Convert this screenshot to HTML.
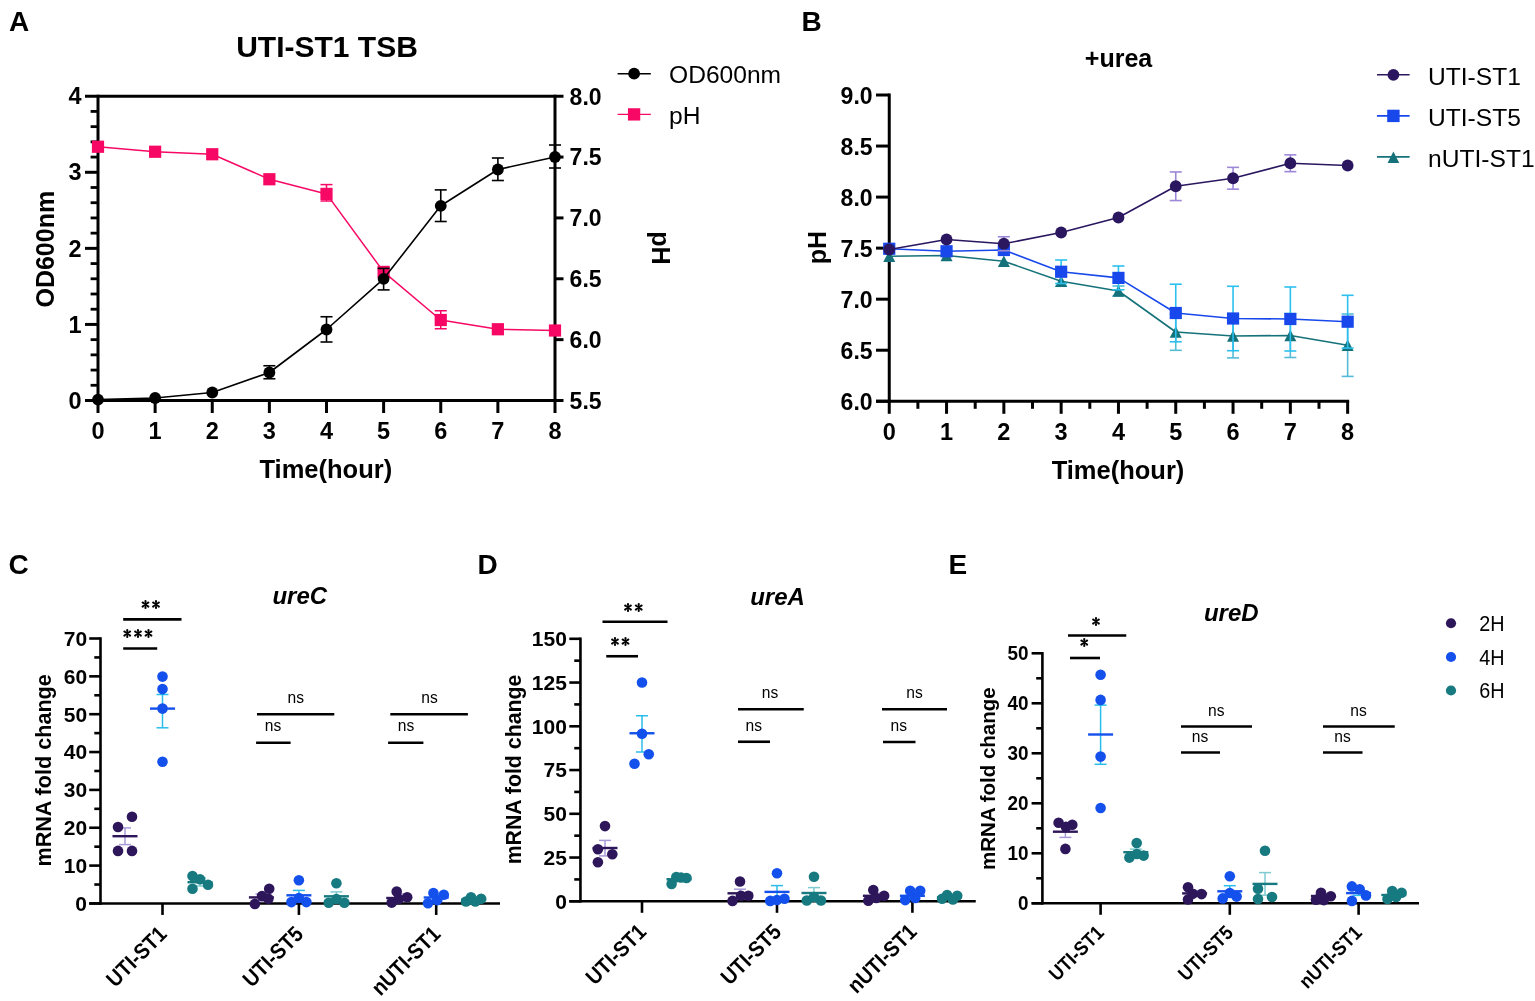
<!DOCTYPE html>
<html><head><meta charset="utf-8"><title>Figure</title>
<style>html,body{margin:0;padding:0;background:#fff;}svg{display:block;}</style></head>
<body><svg width="1535" height="1001" viewBox="0 0 1535 1001" font-family='"Liberation Sans", Arial, sans-serif'>
<rect width="1535" height="1001" fill="#fff"/>
<text x="9.00" y="31.00" font-size="28" font-weight="bold" text-anchor="start" fill="#000">A</text>
<text x="327.00" y="57.00" font-size="30" font-weight="bold" text-anchor="middle" fill="#000">UTI-ST1 TSB</text>
<line x1="85.00" y1="96.20" x2="563.50" y2="96.20" stroke="#000" stroke-width="3" stroke-linecap="butt"/>
<line x1="85.00" y1="400.50" x2="563.50" y2="400.50" stroke="#000" stroke-width="3" stroke-linecap="butt"/>
<line x1="98.00" y1="94.70" x2="98.00" y2="402.00" stroke="#000" stroke-width="3" stroke-linecap="butt"/>
<line x1="555.00" y1="94.70" x2="555.00" y2="402.00" stroke="#000" stroke-width="3" stroke-linecap="butt"/>
<line x1="85.00" y1="324.43" x2="98.00" y2="324.43" stroke="#000" stroke-width="3" stroke-linecap="butt"/>
<line x1="85.00" y1="248.36" x2="98.00" y2="248.36" stroke="#000" stroke-width="3" stroke-linecap="butt"/>
<line x1="85.00" y1="172.29" x2="98.00" y2="172.29" stroke="#000" stroke-width="3" stroke-linecap="butt"/>
<line x1="90.60" y1="385.29" x2="98.00" y2="385.29" stroke="#000" stroke-width="2.8" stroke-linecap="butt"/>
<line x1="90.60" y1="370.07" x2="98.00" y2="370.07" stroke="#000" stroke-width="2.8" stroke-linecap="butt"/>
<line x1="90.60" y1="354.86" x2="98.00" y2="354.86" stroke="#000" stroke-width="2.8" stroke-linecap="butt"/>
<line x1="90.60" y1="339.64" x2="98.00" y2="339.64" stroke="#000" stroke-width="2.8" stroke-linecap="butt"/>
<line x1="90.60" y1="309.22" x2="98.00" y2="309.22" stroke="#000" stroke-width="2.8" stroke-linecap="butt"/>
<line x1="90.60" y1="294.00" x2="98.00" y2="294.00" stroke="#000" stroke-width="2.8" stroke-linecap="butt"/>
<line x1="90.60" y1="278.79" x2="98.00" y2="278.79" stroke="#000" stroke-width="2.8" stroke-linecap="butt"/>
<line x1="90.60" y1="263.57" x2="98.00" y2="263.57" stroke="#000" stroke-width="2.8" stroke-linecap="butt"/>
<line x1="90.60" y1="233.15" x2="98.00" y2="233.15" stroke="#000" stroke-width="2.8" stroke-linecap="butt"/>
<line x1="90.60" y1="217.93" x2="98.00" y2="217.93" stroke="#000" stroke-width="2.8" stroke-linecap="butt"/>
<line x1="90.60" y1="202.72" x2="98.00" y2="202.72" stroke="#000" stroke-width="2.8" stroke-linecap="butt"/>
<line x1="90.60" y1="187.50" x2="98.00" y2="187.50" stroke="#000" stroke-width="2.8" stroke-linecap="butt"/>
<line x1="90.60" y1="157.08" x2="98.00" y2="157.08" stroke="#000" stroke-width="2.8" stroke-linecap="butt"/>
<line x1="90.60" y1="141.86" x2="98.00" y2="141.86" stroke="#000" stroke-width="2.8" stroke-linecap="butt"/>
<line x1="90.60" y1="126.65" x2="98.00" y2="126.65" stroke="#000" stroke-width="2.8" stroke-linecap="butt"/>
<line x1="90.60" y1="111.43" x2="98.00" y2="111.43" stroke="#000" stroke-width="2.8" stroke-linecap="butt"/>
<line x1="555.00" y1="339.64" x2="563.50" y2="339.64" stroke="#000" stroke-width="3" stroke-linecap="butt"/>
<line x1="555.00" y1="278.78" x2="563.50" y2="278.78" stroke="#000" stroke-width="3" stroke-linecap="butt"/>
<line x1="555.00" y1="217.92" x2="563.50" y2="217.92" stroke="#000" stroke-width="3" stroke-linecap="butt"/>
<line x1="555.00" y1="157.06" x2="563.50" y2="157.06" stroke="#000" stroke-width="3" stroke-linecap="butt"/>
<line x1="98.00" y1="400.50" x2="98.00" y2="413.00" stroke="#000" stroke-width="3" stroke-linecap="butt"/>
<line x1="155.12" y1="400.50" x2="155.12" y2="413.00" stroke="#000" stroke-width="3" stroke-linecap="butt"/>
<line x1="212.25" y1="400.50" x2="212.25" y2="413.00" stroke="#000" stroke-width="3" stroke-linecap="butt"/>
<line x1="269.38" y1="400.50" x2="269.38" y2="413.00" stroke="#000" stroke-width="3" stroke-linecap="butt"/>
<line x1="326.50" y1="400.50" x2="326.50" y2="413.00" stroke="#000" stroke-width="3" stroke-linecap="butt"/>
<line x1="383.62" y1="400.50" x2="383.62" y2="413.00" stroke="#000" stroke-width="3" stroke-linecap="butt"/>
<line x1="440.75" y1="400.50" x2="440.75" y2="413.00" stroke="#000" stroke-width="3" stroke-linecap="butt"/>
<line x1="497.88" y1="400.50" x2="497.88" y2="413.00" stroke="#000" stroke-width="3" stroke-linecap="butt"/>
<line x1="555.00" y1="400.50" x2="555.00" y2="413.00" stroke="#000" stroke-width="3" stroke-linecap="butt"/>
<text x="81.50" y="408.70" font-size="23.5" font-weight="bold" text-anchor="end" fill="#000">0</text>
<text x="81.50" y="332.63" font-size="23.5" font-weight="bold" text-anchor="end" fill="#000">1</text>
<text x="81.50" y="256.56" font-size="23.5" font-weight="bold" text-anchor="end" fill="#000">2</text>
<text x="81.50" y="180.49" font-size="23.5" font-weight="bold" text-anchor="end" fill="#000">3</text>
<text x="81.50" y="104.42" font-size="23.5" font-weight="bold" text-anchor="end" fill="#000">4</text>
<text x="569.60" y="408.90" font-size="23" font-weight="bold" text-anchor="start" fill="#000">5.5</text>
<text x="569.60" y="348.04" font-size="23" font-weight="bold" text-anchor="start" fill="#000">6.0</text>
<text x="569.60" y="287.18" font-size="23" font-weight="bold" text-anchor="start" fill="#000">6.5</text>
<text x="569.60" y="226.32" font-size="23" font-weight="bold" text-anchor="start" fill="#000">7.0</text>
<text x="569.60" y="165.46" font-size="23" font-weight="bold" text-anchor="start" fill="#000">7.5</text>
<text x="569.60" y="104.60" font-size="23" font-weight="bold" text-anchor="start" fill="#000">8.0</text>
<text x="98.00" y="438.80" font-size="23.5" font-weight="bold" text-anchor="middle" fill="#000">0</text>
<text x="155.12" y="438.80" font-size="23.5" font-weight="bold" text-anchor="middle" fill="#000">1</text>
<text x="212.25" y="438.80" font-size="23.5" font-weight="bold" text-anchor="middle" fill="#000">2</text>
<text x="269.38" y="438.80" font-size="23.5" font-weight="bold" text-anchor="middle" fill="#000">3</text>
<text x="326.50" y="438.80" font-size="23.5" font-weight="bold" text-anchor="middle" fill="#000">4</text>
<text x="383.62" y="438.80" font-size="23.5" font-weight="bold" text-anchor="middle" fill="#000">5</text>
<text x="440.75" y="438.80" font-size="23.5" font-weight="bold" text-anchor="middle" fill="#000">6</text>
<text x="497.88" y="438.80" font-size="23.5" font-weight="bold" text-anchor="middle" fill="#000">7</text>
<text x="555.00" y="438.80" font-size="23.5" font-weight="bold" text-anchor="middle" fill="#000">8</text>
<text x="325.80" y="477.70" font-size="25.5" font-weight="bold" text-anchor="middle" fill="#000">Time(hour)</text>
<text x="54.20" y="249.20" font-size="25" font-weight="bold" text-anchor="middle" transform="rotate(-90 54.2 249.2)" fill="#000">OD600nm</text>
<text x="652.00" y="248.00" font-size="25" font-weight="bold" text-anchor="middle" transform="rotate(90 652 248)" fill="#000">pH</text>
<polyline fill="none" stroke="#F70864" stroke-width="1.5" stroke-linejoin="round" points="98.00,146.75 155.12,151.75 212.25,154.25 269.38,179.25 326.50,193.90 383.62,271.90 440.75,320.00 497.88,329.25 555.00,330.50"/>
<rect x="91.90" y="140.65" width="12.2" height="12.2" fill="#F70864"/>
<rect x="149.03" y="145.65" width="12.2" height="12.2" fill="#F70864"/>
<rect x="206.15" y="148.15" width="12.2" height="12.2" fill="#F70864"/>
<rect x="263.27" y="173.15" width="12.2" height="12.2" fill="#F70864"/>
<rect x="320.40" y="187.80" width="12.2" height="12.2" fill="#F70864"/>
<rect x="377.52" y="265.80" width="12.2" height="12.2" fill="#F70864"/>
<rect x="434.65" y="313.90" width="12.2" height="12.2" fill="#F70864"/>
<rect x="491.77" y="323.15" width="12.2" height="12.2" fill="#F70864"/>
<rect x="548.90" y="324.40" width="12.2" height="12.2" fill="#F70864"/>
<line x1="326.50" y1="184.60" x2="326.50" y2="201.00" stroke="#F70864" stroke-width="1.5" stroke-linecap="butt"/>
<line x1="320.50" y1="184.60" x2="332.50" y2="184.60" stroke="#F70864" stroke-width="1.5" stroke-linecap="butt"/>
<line x1="320.50" y1="201.00" x2="332.50" y2="201.00" stroke="#F70864" stroke-width="1.5" stroke-linecap="butt"/>
<line x1="440.75" y1="310.75" x2="440.75" y2="328.75" stroke="#F70864" stroke-width="1.5" stroke-linecap="butt"/>
<line x1="434.75" y1="310.75" x2="446.75" y2="310.75" stroke="#F70864" stroke-width="1.5" stroke-linecap="butt"/>
<line x1="434.75" y1="328.75" x2="446.75" y2="328.75" stroke="#F70864" stroke-width="1.5" stroke-linecap="butt"/>
<line x1="269.38" y1="365.75" x2="269.38" y2="378.75" stroke="#000" stroke-width="1.6" stroke-linecap="butt"/>
<line x1="263.38" y1="365.75" x2="275.38" y2="365.75" stroke="#000" stroke-width="1.6" stroke-linecap="butt"/>
<line x1="263.38" y1="378.75" x2="275.38" y2="378.75" stroke="#000" stroke-width="1.6" stroke-linecap="butt"/>
<line x1="326.50" y1="316.75" x2="326.50" y2="342.00" stroke="#000" stroke-width="1.6" stroke-linecap="butt"/>
<line x1="320.50" y1="316.75" x2="332.50" y2="316.75" stroke="#000" stroke-width="1.6" stroke-linecap="butt"/>
<line x1="320.50" y1="342.00" x2="332.50" y2="342.00" stroke="#000" stroke-width="1.6" stroke-linecap="butt"/>
<line x1="383.62" y1="268.40" x2="383.62" y2="289.90" stroke="#000" stroke-width="1.6" stroke-linecap="butt"/>
<line x1="377.62" y1="268.40" x2="389.62" y2="268.40" stroke="#000" stroke-width="1.6" stroke-linecap="butt"/>
<line x1="377.62" y1="289.90" x2="389.62" y2="289.90" stroke="#000" stroke-width="1.6" stroke-linecap="butt"/>
<line x1="440.75" y1="189.90" x2="440.75" y2="221.50" stroke="#000" stroke-width="1.6" stroke-linecap="butt"/>
<line x1="434.75" y1="189.90" x2="446.75" y2="189.90" stroke="#000" stroke-width="1.6" stroke-linecap="butt"/>
<line x1="434.75" y1="221.50" x2="446.75" y2="221.50" stroke="#000" stroke-width="1.6" stroke-linecap="butt"/>
<line x1="497.88" y1="158.00" x2="497.88" y2="180.50" stroke="#000" stroke-width="1.6" stroke-linecap="butt"/>
<line x1="491.88" y1="158.00" x2="503.88" y2="158.00" stroke="#000" stroke-width="1.6" stroke-linecap="butt"/>
<line x1="491.88" y1="180.50" x2="503.88" y2="180.50" stroke="#000" stroke-width="1.6" stroke-linecap="butt"/>
<line x1="555.00" y1="145.00" x2="555.00" y2="168.00" stroke="#000" stroke-width="1.6" stroke-linecap="butt"/>
<line x1="549.00" y1="145.00" x2="561.00" y2="145.00" stroke="#000" stroke-width="1.6" stroke-linecap="butt"/>
<line x1="549.00" y1="168.00" x2="561.00" y2="168.00" stroke="#000" stroke-width="1.6" stroke-linecap="butt"/>
<polyline fill="none" stroke="#000" stroke-width="1.6" stroke-linejoin="round" points="98.00,399.60 155.12,398.00 212.25,392.50 269.38,372.50 326.50,329.50 383.62,278.80 440.75,205.80 497.88,169.50 555.00,157.00"/>
<circle cx="98.00" cy="399.60" r="5.9" fill="#000"/>
<circle cx="155.12" cy="398.00" r="5.9" fill="#000"/>
<circle cx="212.25" cy="392.50" r="5.9" fill="#000"/>
<circle cx="269.38" cy="372.50" r="5.9" fill="#000"/>
<circle cx="326.50" cy="329.50" r="5.9" fill="#000"/>
<circle cx="383.62" cy="278.80" r="5.9" fill="#000"/>
<circle cx="440.75" cy="205.80" r="5.9" fill="#000"/>
<circle cx="497.88" cy="169.50" r="5.9" fill="#000"/>
<circle cx="555.00" cy="157.00" r="5.9" fill="#000"/>
<line x1="617.60" y1="73.70" x2="650.80" y2="73.70" stroke="#000" stroke-width="1.6" stroke-linecap="butt"/>
<circle cx="634.10" cy="73.70" r="5.9" fill="#000"/>
<text x="669.00" y="83.40" font-size="24.6" font-weight="normal" text-anchor="start" fill="#000">OD600nm</text>
<line x1="617.60" y1="114.40" x2="650.80" y2="114.40" stroke="#F70864" stroke-width="1.4" stroke-linecap="butt"/>
<rect x="627.95" y="108.25" width="12.3" height="12.3" fill="#F70864"/>
<text x="669.00" y="124.00" font-size="24.6" font-weight="normal" text-anchor="start" fill="#000">pH</text>
<text x="801.50" y="30.50" font-size="28" font-weight="bold" text-anchor="start" fill="#000">B</text>
<text x="1118.50" y="67.00" font-size="25" font-weight="bold" text-anchor="middle" fill="#000">+urea</text>
<line x1="889.25" y1="93.51" x2="889.25" y2="402.75" stroke="#000" stroke-width="3" stroke-linecap="butt"/>
<line x1="876.00" y1="401.25" x2="1349.15" y2="401.25" stroke="#000" stroke-width="3" stroke-linecap="butt"/>
<line x1="876.00" y1="401.25" x2="889.25" y2="401.25" stroke="#000" stroke-width="3" stroke-linecap="butt"/>
<text x="872.60" y="410.25" font-size="23" font-weight="bold" text-anchor="end" fill="#000">6.0</text>
<line x1="876.00" y1="350.21" x2="889.25" y2="350.21" stroke="#000" stroke-width="3" stroke-linecap="butt"/>
<text x="872.60" y="359.21" font-size="23" font-weight="bold" text-anchor="end" fill="#000">6.5</text>
<line x1="876.00" y1="299.17" x2="889.25" y2="299.17" stroke="#000" stroke-width="3" stroke-linecap="butt"/>
<text x="872.60" y="308.17" font-size="23" font-weight="bold" text-anchor="end" fill="#000">7.0</text>
<line x1="876.00" y1="248.13" x2="889.25" y2="248.13" stroke="#000" stroke-width="3" stroke-linecap="butt"/>
<text x="872.60" y="257.13" font-size="23" font-weight="bold" text-anchor="end" fill="#000">7.5</text>
<line x1="876.00" y1="197.09" x2="889.25" y2="197.09" stroke="#000" stroke-width="3" stroke-linecap="butt"/>
<text x="872.60" y="206.09" font-size="23" font-weight="bold" text-anchor="end" fill="#000">8.0</text>
<line x1="876.00" y1="146.05" x2="889.25" y2="146.05" stroke="#000" stroke-width="3" stroke-linecap="butt"/>
<text x="872.60" y="155.05" font-size="23" font-weight="bold" text-anchor="end" fill="#000">8.5</text>
<line x1="876.00" y1="95.01" x2="889.25" y2="95.01" stroke="#000" stroke-width="3" stroke-linecap="butt"/>
<text x="872.60" y="104.01" font-size="23" font-weight="bold" text-anchor="end" fill="#000">9.0</text>
<line x1="889.25" y1="401.25" x2="889.25" y2="413.80" stroke="#000" stroke-width="3" stroke-linecap="butt"/>
<text x="889.25" y="439.50" font-size="23.5" font-weight="bold" text-anchor="middle" fill="#000">0</text>
<line x1="946.55" y1="401.25" x2="946.55" y2="413.80" stroke="#000" stroke-width="3" stroke-linecap="butt"/>
<text x="946.55" y="439.50" font-size="23.5" font-weight="bold" text-anchor="middle" fill="#000">1</text>
<line x1="1003.85" y1="401.25" x2="1003.85" y2="413.80" stroke="#000" stroke-width="3" stroke-linecap="butt"/>
<text x="1003.85" y="439.50" font-size="23.5" font-weight="bold" text-anchor="middle" fill="#000">2</text>
<line x1="1061.15" y1="401.25" x2="1061.15" y2="413.80" stroke="#000" stroke-width="3" stroke-linecap="butt"/>
<text x="1061.15" y="439.50" font-size="23.5" font-weight="bold" text-anchor="middle" fill="#000">3</text>
<line x1="1118.45" y1="401.25" x2="1118.45" y2="413.80" stroke="#000" stroke-width="3" stroke-linecap="butt"/>
<text x="1118.45" y="439.50" font-size="23.5" font-weight="bold" text-anchor="middle" fill="#000">4</text>
<line x1="1175.75" y1="401.25" x2="1175.75" y2="413.80" stroke="#000" stroke-width="3" stroke-linecap="butt"/>
<text x="1175.75" y="439.50" font-size="23.5" font-weight="bold" text-anchor="middle" fill="#000">5</text>
<line x1="1233.05" y1="401.25" x2="1233.05" y2="413.80" stroke="#000" stroke-width="3" stroke-linecap="butt"/>
<text x="1233.05" y="439.50" font-size="23.5" font-weight="bold" text-anchor="middle" fill="#000">6</text>
<line x1="1290.35" y1="401.25" x2="1290.35" y2="413.80" stroke="#000" stroke-width="3" stroke-linecap="butt"/>
<text x="1290.35" y="439.50" font-size="23.5" font-weight="bold" text-anchor="middle" fill="#000">7</text>
<line x1="1347.65" y1="401.25" x2="1347.65" y2="413.80" stroke="#000" stroke-width="3" stroke-linecap="butt"/>
<text x="1347.65" y="439.50" font-size="23.5" font-weight="bold" text-anchor="middle" fill="#000">8</text>
<line x1="917.90" y1="401.25" x2="917.90" y2="408.80" stroke="#000" stroke-width="3" stroke-linecap="butt"/>
<line x1="975.20" y1="401.25" x2="975.20" y2="408.80" stroke="#000" stroke-width="3" stroke-linecap="butt"/>
<line x1="1032.50" y1="401.25" x2="1032.50" y2="408.80" stroke="#000" stroke-width="3" stroke-linecap="butt"/>
<line x1="1089.80" y1="401.25" x2="1089.80" y2="408.80" stroke="#000" stroke-width="3" stroke-linecap="butt"/>
<line x1="1147.10" y1="401.25" x2="1147.10" y2="408.80" stroke="#000" stroke-width="3" stroke-linecap="butt"/>
<line x1="1204.40" y1="401.25" x2="1204.40" y2="408.80" stroke="#000" stroke-width="3" stroke-linecap="butt"/>
<line x1="1261.70" y1="401.25" x2="1261.70" y2="408.80" stroke="#000" stroke-width="3" stroke-linecap="butt"/>
<line x1="1319.00" y1="401.25" x2="1319.00" y2="408.80" stroke="#000" stroke-width="3" stroke-linecap="butt"/>
<text x="1118.00" y="478.70" font-size="25.5" font-weight="bold" text-anchor="middle" fill="#000">Time(hour)</text>
<text x="825.50" y="247.50" font-size="25" font-weight="bold" text-anchor="middle" transform="rotate(-90 825.5 247.5)" fill="#000">pH</text>
<line x1="1061.15" y1="276.25" x2="1061.15" y2="286.25" stroke="#55BCD8" stroke-width="1.6" stroke-linecap="butt"/>
<line x1="1055.15" y1="276.25" x2="1067.15" y2="276.25" stroke="#55BCD8" stroke-width="1.6" stroke-linecap="butt"/>
<line x1="1055.15" y1="286.25" x2="1067.15" y2="286.25" stroke="#55BCD8" stroke-width="1.6" stroke-linecap="butt"/>
<line x1="1118.45" y1="286.00" x2="1118.45" y2="296.00" stroke="#55BCD8" stroke-width="1.6" stroke-linecap="butt"/>
<line x1="1112.45" y1="286.00" x2="1124.45" y2="286.00" stroke="#55BCD8" stroke-width="1.6" stroke-linecap="butt"/>
<line x1="1112.45" y1="296.00" x2="1124.45" y2="296.00" stroke="#55BCD8" stroke-width="1.6" stroke-linecap="butt"/>
<line x1="1175.75" y1="313.70" x2="1175.75" y2="350.30" stroke="#55BCD8" stroke-width="1.6" stroke-linecap="butt"/>
<line x1="1169.75" y1="313.70" x2="1181.75" y2="313.70" stroke="#55BCD8" stroke-width="1.6" stroke-linecap="butt"/>
<line x1="1169.75" y1="350.30" x2="1181.75" y2="350.30" stroke="#55BCD8" stroke-width="1.6" stroke-linecap="butt"/>
<line x1="1233.05" y1="314.10" x2="1233.05" y2="357.90" stroke="#55BCD8" stroke-width="1.6" stroke-linecap="butt"/>
<line x1="1227.05" y1="314.10" x2="1239.05" y2="314.10" stroke="#55BCD8" stroke-width="1.6" stroke-linecap="butt"/>
<line x1="1227.05" y1="357.90" x2="1239.05" y2="357.90" stroke="#55BCD8" stroke-width="1.6" stroke-linecap="butt"/>
<line x1="1290.35" y1="313.50" x2="1290.35" y2="357.50" stroke="#55BCD8" stroke-width="1.6" stroke-linecap="butt"/>
<line x1="1284.35" y1="313.50" x2="1296.35" y2="313.50" stroke="#55BCD8" stroke-width="1.6" stroke-linecap="butt"/>
<line x1="1284.35" y1="357.50" x2="1296.35" y2="357.50" stroke="#55BCD8" stroke-width="1.6" stroke-linecap="butt"/>
<line x1="1347.65" y1="314.00" x2="1347.65" y2="376.40" stroke="#55BCD8" stroke-width="1.6" stroke-linecap="butt"/>
<line x1="1341.65" y1="314.00" x2="1353.65" y2="314.00" stroke="#55BCD8" stroke-width="1.6" stroke-linecap="butt"/>
<line x1="1341.65" y1="376.40" x2="1353.65" y2="376.40" stroke="#55BCD8" stroke-width="1.6" stroke-linecap="butt"/>
<polyline fill="none" stroke="#15727A" stroke-width="1.6" stroke-linejoin="round" points="889.25,256.25 946.55,255.50 1003.85,261.25 1061.15,281.25 1118.45,291.00 1175.75,332.00 1233.05,336.00 1290.35,335.50 1347.65,345.20"/>
<polygon fill="#15727A" points="889.25,250.55 883.25,261.95 895.25,261.95"/>
<polygon fill="#15727A" points="946.55,249.80 940.55,261.20 952.55,261.20"/>
<polygon fill="#15727A" points="1003.85,255.55 997.85,266.95 1009.85,266.95"/>
<polygon fill="#15727A" points="1061.15,275.55 1055.15,286.95 1067.15,286.95"/>
<polygon fill="#15727A" points="1118.45,285.30 1112.45,296.70 1124.45,296.70"/>
<polygon fill="#15727A" points="1175.75,326.30 1169.75,337.70 1181.75,337.70"/>
<polygon fill="#15727A" points="1233.05,330.30 1227.05,341.70 1239.05,341.70"/>
<polygon fill="#15727A" points="1290.35,329.80 1284.35,341.20 1296.35,341.20"/>
<polygon fill="#15727A" points="1347.65,339.50 1341.65,350.90 1353.65,350.90"/>
<line x1="1061.15" y1="260.00" x2="1061.15" y2="283.50" stroke="#2BC0EE" stroke-width="1.6" stroke-linecap="butt"/>
<line x1="1055.15" y1="260.00" x2="1067.15" y2="260.00" stroke="#2BC0EE" stroke-width="1.6" stroke-linecap="butt"/>
<line x1="1055.15" y1="283.50" x2="1067.15" y2="283.50" stroke="#2BC0EE" stroke-width="1.6" stroke-linecap="butt"/>
<line x1="1118.45" y1="266.00" x2="1118.45" y2="289.80" stroke="#2BC0EE" stroke-width="1.6" stroke-linecap="butt"/>
<line x1="1112.45" y1="266.00" x2="1124.45" y2="266.00" stroke="#2BC0EE" stroke-width="1.6" stroke-linecap="butt"/>
<line x1="1112.45" y1="289.80" x2="1124.45" y2="289.80" stroke="#2BC0EE" stroke-width="1.6" stroke-linecap="butt"/>
<line x1="1175.75" y1="284.20" x2="1175.75" y2="341.80" stroke="#2BC0EE" stroke-width="1.6" stroke-linecap="butt"/>
<line x1="1169.75" y1="284.20" x2="1181.75" y2="284.20" stroke="#2BC0EE" stroke-width="1.6" stroke-linecap="butt"/>
<line x1="1169.75" y1="341.80" x2="1181.75" y2="341.80" stroke="#2BC0EE" stroke-width="1.6" stroke-linecap="butt"/>
<line x1="1233.05" y1="286.30" x2="1233.05" y2="350.70" stroke="#2BC0EE" stroke-width="1.6" stroke-linecap="butt"/>
<line x1="1227.05" y1="286.30" x2="1239.05" y2="286.30" stroke="#2BC0EE" stroke-width="1.6" stroke-linecap="butt"/>
<line x1="1227.05" y1="350.70" x2="1239.05" y2="350.70" stroke="#2BC0EE" stroke-width="1.6" stroke-linecap="butt"/>
<line x1="1290.35" y1="287.00" x2="1290.35" y2="351.00" stroke="#2BC0EE" stroke-width="1.6" stroke-linecap="butt"/>
<line x1="1284.35" y1="287.00" x2="1296.35" y2="287.00" stroke="#2BC0EE" stroke-width="1.6" stroke-linecap="butt"/>
<line x1="1284.35" y1="351.00" x2="1296.35" y2="351.00" stroke="#2BC0EE" stroke-width="1.6" stroke-linecap="butt"/>
<line x1="1347.65" y1="295.30" x2="1347.65" y2="348.10" stroke="#2BC0EE" stroke-width="1.6" stroke-linecap="butt"/>
<line x1="1341.65" y1="295.30" x2="1353.65" y2="295.30" stroke="#2BC0EE" stroke-width="1.6" stroke-linecap="butt"/>
<line x1="1341.65" y1="348.10" x2="1353.65" y2="348.10" stroke="#2BC0EE" stroke-width="1.6" stroke-linecap="butt"/>
<polyline fill="none" stroke="#1848EC" stroke-width="1.6" stroke-linejoin="round" points="889.25,248.75 946.55,251.25 1003.85,250.00 1061.15,271.75 1118.45,277.90 1175.75,313.00 1233.05,318.50 1290.35,319.00 1347.65,321.70"/>
<rect x="883.15" y="242.65" width="12.2" height="12.2" fill="#1848EC"/>
<rect x="940.45" y="245.15" width="12.2" height="12.2" fill="#1848EC"/>
<rect x="997.75" y="243.90" width="12.2" height="12.2" fill="#1848EC"/>
<rect x="1055.05" y="265.65" width="12.2" height="12.2" fill="#1848EC"/>
<rect x="1112.35" y="271.80" width="12.2" height="12.2" fill="#1848EC"/>
<rect x="1169.65" y="306.90" width="12.2" height="12.2" fill="#1848EC"/>
<rect x="1226.95" y="312.40" width="12.2" height="12.2" fill="#1848EC"/>
<rect x="1284.25" y="312.90" width="12.2" height="12.2" fill="#1848EC"/>
<rect x="1341.55" y="315.60" width="12.2" height="12.2" fill="#1848EC"/>
<line x1="1003.85" y1="236.75" x2="1003.85" y2="250.75" stroke="#9D88D8" stroke-width="1.6" stroke-linecap="butt"/>
<line x1="997.85" y1="236.75" x2="1009.85" y2="236.75" stroke="#9D88D8" stroke-width="1.6" stroke-linecap="butt"/>
<line x1="997.85" y1="250.75" x2="1009.85" y2="250.75" stroke="#9D88D8" stroke-width="1.6" stroke-linecap="butt"/>
<line x1="1175.75" y1="171.95" x2="1175.75" y2="200.55" stroke="#9D88D8" stroke-width="1.6" stroke-linecap="butt"/>
<line x1="1169.75" y1="171.95" x2="1181.75" y2="171.95" stroke="#9D88D8" stroke-width="1.6" stroke-linecap="butt"/>
<line x1="1169.75" y1="200.55" x2="1181.75" y2="200.55" stroke="#9D88D8" stroke-width="1.6" stroke-linecap="butt"/>
<line x1="1233.05" y1="167.35" x2="1233.05" y2="189.15" stroke="#9D88D8" stroke-width="1.6" stroke-linecap="butt"/>
<line x1="1227.05" y1="167.35" x2="1239.05" y2="167.35" stroke="#9D88D8" stroke-width="1.6" stroke-linecap="butt"/>
<line x1="1227.05" y1="189.15" x2="1239.05" y2="189.15" stroke="#9D88D8" stroke-width="1.6" stroke-linecap="butt"/>
<line x1="1290.35" y1="154.85" x2="1290.35" y2="171.65" stroke="#9D88D8" stroke-width="1.6" stroke-linecap="butt"/>
<line x1="1284.35" y1="154.85" x2="1296.35" y2="154.85" stroke="#9D88D8" stroke-width="1.6" stroke-linecap="butt"/>
<line x1="1284.35" y1="171.65" x2="1296.35" y2="171.65" stroke="#9D88D8" stroke-width="1.6" stroke-linecap="butt"/>
<polyline fill="none" stroke="#2B1760" stroke-width="1.6" stroke-linejoin="round" points="889.25,249.50 946.55,239.50 1003.85,243.75 1061.15,232.50 1118.45,217.50 1175.75,186.25 1233.05,178.25 1290.35,163.25 1347.65,165.50"/>
<circle cx="889.25" cy="249.50" r="5.9" fill="#2B1760"/>
<circle cx="946.55" cy="239.50" r="5.9" fill="#2B1760"/>
<circle cx="1003.85" cy="243.75" r="5.9" fill="#2B1760"/>
<circle cx="1061.15" cy="232.50" r="5.9" fill="#2B1760"/>
<circle cx="1118.45" cy="217.50" r="5.9" fill="#2B1760"/>
<circle cx="1175.75" cy="186.25" r="5.9" fill="#2B1760"/>
<circle cx="1233.05" cy="178.25" r="5.9" fill="#2B1760"/>
<circle cx="1290.35" cy="163.25" r="5.9" fill="#2B1760"/>
<circle cx="1347.65" cy="165.50" r="5.9" fill="#2B1760"/>
<line x1="1377.00" y1="74.80" x2="1409.60" y2="74.80" stroke="#2B1760" stroke-width="1.6" stroke-linecap="butt"/>
<circle cx="1393.40" cy="74.80" r="5.9" fill="#2B1760"/>
<text x="1428.00" y="84.50" font-size="24.6" font-weight="normal" text-anchor="start" fill="#000">UTI-ST1</text>
<line x1="1377.00" y1="115.90" x2="1409.60" y2="115.90" stroke="#1848EC" stroke-width="1.6" stroke-linecap="butt"/>
<rect x="1387.20" y="109.70" width="12.4" height="12.4" fill="#1848EC"/>
<text x="1428.00" y="125.60" font-size="24.6" font-weight="normal" text-anchor="start" fill="#000">UTI-ST5</text>
<line x1="1377.00" y1="156.90" x2="1409.60" y2="156.90" stroke="#15727A" stroke-width="1.6" stroke-linecap="butt"/>
<polygon fill="#15727A" points="1393.40,151.50 1387.55,162.90 1399.25,162.90"/>
<text x="1428.00" y="166.60" font-size="24.6" font-weight="normal" text-anchor="start" fill="#000">nUTI-ST1</text>
<line x1="100.50" y1="637.20" x2="100.50" y2="904.75" stroke="#000" stroke-width="2.6" stroke-linecap="butt"/>
<line x1="89.20" y1="903.45" x2="500.00" y2="903.45" stroke="#000" stroke-width="2.6" stroke-linecap="butt"/>
<line x1="89.20" y1="903.45" x2="100.50" y2="903.45" stroke="#000" stroke-width="2.6" stroke-linecap="butt"/>
<text font-size="21" font-weight="bold" text-anchor="end" transform="translate(87.06 910.76) scale(1.0 1)">0</text>
<line x1="89.20" y1="865.60" x2="100.50" y2="865.60" stroke="#000" stroke-width="2.6" stroke-linecap="butt"/>
<text font-size="21" font-weight="bold" text-anchor="end" transform="translate(87.06 872.91) scale(1.0 1)">10</text>
<line x1="89.20" y1="827.75" x2="100.50" y2="827.75" stroke="#000" stroke-width="2.6" stroke-linecap="butt"/>
<text font-size="21" font-weight="bold" text-anchor="end" transform="translate(87.06 835.06) scale(1.0 1)">20</text>
<line x1="89.20" y1="789.90" x2="100.50" y2="789.90" stroke="#000" stroke-width="2.6" stroke-linecap="butt"/>
<text font-size="21" font-weight="bold" text-anchor="end" transform="translate(87.06 797.21) scale(1.0 1)">30</text>
<line x1="89.20" y1="752.05" x2="100.50" y2="752.05" stroke="#000" stroke-width="2.6" stroke-linecap="butt"/>
<text font-size="21" font-weight="bold" text-anchor="end" transform="translate(87.06 759.36) scale(1.0 1)">40</text>
<line x1="89.20" y1="714.20" x2="100.50" y2="714.20" stroke="#000" stroke-width="2.6" stroke-linecap="butt"/>
<text font-size="21" font-weight="bold" text-anchor="end" transform="translate(87.06 721.51) scale(1.0 1)">50</text>
<line x1="89.20" y1="676.35" x2="100.50" y2="676.35" stroke="#000" stroke-width="2.6" stroke-linecap="butt"/>
<text font-size="21" font-weight="bold" text-anchor="end" transform="translate(87.06 683.66) scale(1.0 1)">60</text>
<line x1="89.20" y1="638.50" x2="100.50" y2="638.50" stroke="#000" stroke-width="2.6" stroke-linecap="butt"/>
<text font-size="21" font-weight="bold" text-anchor="end" transform="translate(87.06 645.81) scale(1.0 1)">70</text>
<line x1="94.30" y1="884.53" x2="100.50" y2="884.53" stroke="#000" stroke-width="2.6" stroke-linecap="butt"/>
<line x1="94.30" y1="846.68" x2="100.50" y2="846.68" stroke="#000" stroke-width="2.6" stroke-linecap="butt"/>
<line x1="94.30" y1="808.83" x2="100.50" y2="808.83" stroke="#000" stroke-width="2.6" stroke-linecap="butt"/>
<line x1="94.30" y1="770.98" x2="100.50" y2="770.98" stroke="#000" stroke-width="2.6" stroke-linecap="butt"/>
<line x1="94.30" y1="733.12" x2="100.50" y2="733.12" stroke="#000" stroke-width="2.6" stroke-linecap="butt"/>
<line x1="94.30" y1="695.28" x2="100.50" y2="695.28" stroke="#000" stroke-width="2.6" stroke-linecap="butt"/>
<line x1="94.30" y1="657.43" x2="100.50" y2="657.43" stroke="#000" stroke-width="2.6" stroke-linecap="butt"/>
<line x1="162.50" y1="903.45" x2="162.50" y2="914.95" stroke="#000" stroke-width="2.6" stroke-linecap="butt"/>
<text font-size="22" font-weight="bold" text-anchor="end" transform="translate(168.10 935.35) rotate(-45) scale(0.9 1)">UTI-ST1</text>
<line x1="298.90" y1="903.45" x2="298.90" y2="914.95" stroke="#000" stroke-width="2.6" stroke-linecap="butt"/>
<text font-size="22" font-weight="bold" text-anchor="end" transform="translate(304.50 935.35) rotate(-45) scale(0.9 1)">UTI-ST5</text>
<line x1="436.20" y1="903.45" x2="436.20" y2="914.95" stroke="#000" stroke-width="2.6" stroke-linecap="butt"/>
<text font-size="22" font-weight="bold" text-anchor="end" transform="translate(441.80 935.35) rotate(-45) scale(0.9 1)">nUTI-ST1</text>
<line x1="125.00" y1="827.90" x2="125.00" y2="844.60" stroke="#A99BD8" stroke-width="1.5" stroke-linecap="butt"/>
<line x1="119.00" y1="827.90" x2="131.00" y2="827.90" stroke="#A99BD8" stroke-width="1.5" stroke-linecap="butt"/>
<line x1="119.00" y1="844.60" x2="131.00" y2="844.60" stroke="#A99BD8" stroke-width="1.5" stroke-linecap="butt"/>
<circle cx="132.00" cy="816.70" r="5.3" fill="#2D1659"/>
<circle cx="118.00" cy="827.00" r="5.3" fill="#2D1659"/>
<circle cx="118.00" cy="850.90" r="5.3" fill="#2D1659"/>
<circle cx="132.00" cy="850.90" r="5.3" fill="#2D1659"/>
<line x1="112.50" y1="836.20" x2="137.50" y2="836.20" stroke="#2D1659" stroke-width="2.4" stroke-linecap="butt"/>
<line x1="162.50" y1="694.50" x2="162.50" y2="727.80" stroke="#2ABDEB" stroke-width="1.5" stroke-linecap="butt"/>
<line x1="156.50" y1="694.50" x2="168.50" y2="694.50" stroke="#2ABDEB" stroke-width="1.5" stroke-linecap="butt"/>
<line x1="156.50" y1="727.80" x2="168.50" y2="727.80" stroke="#2ABDEB" stroke-width="1.5" stroke-linecap="butt"/>
<circle cx="162.50" cy="676.60" r="5.3" fill="#1450EB"/>
<circle cx="162.50" cy="689.10" r="5.3" fill="#1450EB"/>
<circle cx="162.50" cy="708.60" r="5.3" fill="#1450EB"/>
<circle cx="162.50" cy="761.70" r="5.3" fill="#1450EB"/>
<line x1="150.00" y1="708.60" x2="175.00" y2="708.60" stroke="#1450EB" stroke-width="2.4" stroke-linecap="butt"/>
<line x1="200.00" y1="878.00" x2="200.00" y2="886.00" stroke="#7FCBD0" stroke-width="1.5" stroke-linecap="butt"/>
<line x1="194.00" y1="878.00" x2="206.00" y2="878.00" stroke="#7FCBD0" stroke-width="1.5" stroke-linecap="butt"/>
<line x1="194.00" y1="886.00" x2="206.00" y2="886.00" stroke="#7FCBD0" stroke-width="1.5" stroke-linecap="butt"/>
<circle cx="192.50" cy="876.00" r="5.3" fill="#167A80"/>
<circle cx="192.50" cy="888.80" r="5.3" fill="#167A80"/>
<circle cx="200.00" cy="879.20" r="5.3" fill="#167A80"/>
<circle cx="208.00" cy="884.80" r="5.3" fill="#167A80"/>
<line x1="187.50" y1="882.20" x2="212.50" y2="882.20" stroke="#167A80" stroke-width="2.4" stroke-linecap="butt"/>
<line x1="261.40" y1="894.00" x2="261.40" y2="901.00" stroke="#A99BD8" stroke-width="1.5" stroke-linecap="butt"/>
<line x1="255.40" y1="894.00" x2="267.40" y2="894.00" stroke="#A99BD8" stroke-width="1.5" stroke-linecap="butt"/>
<line x1="255.40" y1="901.00" x2="267.40" y2="901.00" stroke="#A99BD8" stroke-width="1.5" stroke-linecap="butt"/>
<circle cx="269.20" cy="888.80" r="5.3" fill="#2D1659"/>
<circle cx="254.90" cy="903.90" r="5.3" fill="#2D1659"/>
<circle cx="262.00" cy="896.00" r="5.3" fill="#2D1659"/>
<circle cx="268.40" cy="898.70" r="5.3" fill="#2D1659"/>
<line x1="248.90" y1="897.40" x2="273.90" y2="897.40" stroke="#2D1659" stroke-width="2.4" stroke-linecap="butt"/>
<line x1="298.90" y1="890.40" x2="298.90" y2="900.00" stroke="#2ABDEB" stroke-width="1.5" stroke-linecap="butt"/>
<line x1="292.90" y1="890.40" x2="304.90" y2="890.40" stroke="#2ABDEB" stroke-width="1.5" stroke-linecap="butt"/>
<line x1="292.90" y1="900.00" x2="304.90" y2="900.00" stroke="#2ABDEB" stroke-width="1.5" stroke-linecap="butt"/>
<circle cx="298.90" cy="880.30" r="5.3" fill="#1450EB"/>
<circle cx="291.40" cy="902.10" r="5.3" fill="#1450EB"/>
<circle cx="306.40" cy="902.10" r="5.3" fill="#1450EB"/>
<circle cx="298.90" cy="898.00" r="5.3" fill="#1450EB"/>
<line x1="286.40" y1="895.30" x2="311.40" y2="895.30" stroke="#1450EB" stroke-width="2.4" stroke-linecap="butt"/>
<line x1="336.40" y1="891.90" x2="336.40" y2="900.00" stroke="#7FCBD0" stroke-width="1.5" stroke-linecap="butt"/>
<line x1="330.40" y1="891.90" x2="342.40" y2="891.90" stroke="#7FCBD0" stroke-width="1.5" stroke-linecap="butt"/>
<line x1="330.40" y1="900.00" x2="342.40" y2="900.00" stroke="#7FCBD0" stroke-width="1.5" stroke-linecap="butt"/>
<circle cx="336.40" cy="883.30" r="5.3" fill="#167A80"/>
<circle cx="328.70" cy="902.80" r="5.3" fill="#167A80"/>
<circle cx="344.40" cy="902.80" r="5.3" fill="#167A80"/>
<circle cx="336.40" cy="899.00" r="5.3" fill="#167A80"/>
<line x1="323.90" y1="896.30" x2="348.90" y2="896.30" stroke="#167A80" stroke-width="2.4" stroke-linecap="butt"/>
<line x1="398.70" y1="894.00" x2="398.70" y2="901.00" stroke="#A99BD8" stroke-width="1.5" stroke-linecap="butt"/>
<line x1="392.70" y1="894.00" x2="404.70" y2="894.00" stroke="#A99BD8" stroke-width="1.5" stroke-linecap="butt"/>
<line x1="392.70" y1="901.00" x2="404.70" y2="901.00" stroke="#A99BD8" stroke-width="1.5" stroke-linecap="butt"/>
<circle cx="396.70" cy="891.50" r="5.3" fill="#2D1659"/>
<circle cx="407.20" cy="897.20" r="5.3" fill="#2D1659"/>
<circle cx="391.70" cy="902.60" r="5.3" fill="#2D1659"/>
<circle cx="398.70" cy="899.00" r="5.3" fill="#2D1659"/>
<line x1="386.20" y1="898.00" x2="411.20" y2="898.00" stroke="#2D1659" stroke-width="2.4" stroke-linecap="butt"/>
<line x1="436.20" y1="894.00" x2="436.20" y2="901.00" stroke="#2ABDEB" stroke-width="1.5" stroke-linecap="butt"/>
<line x1="430.20" y1="894.00" x2="442.20" y2="894.00" stroke="#2ABDEB" stroke-width="1.5" stroke-linecap="butt"/>
<line x1="430.20" y1="901.00" x2="442.20" y2="901.00" stroke="#2ABDEB" stroke-width="1.5" stroke-linecap="butt"/>
<circle cx="433.40" cy="893.00" r="5.3" fill="#1450EB"/>
<circle cx="443.80" cy="894.70" r="5.3" fill="#1450EB"/>
<circle cx="428.00" cy="903.30" r="5.3" fill="#1450EB"/>
<circle cx="437.20" cy="900.10" r="5.3" fill="#1450EB"/>
<line x1="423.70" y1="897.50" x2="448.70" y2="897.50" stroke="#1450EB" stroke-width="2.4" stroke-linecap="butt"/>
<line x1="473.70" y1="898.00" x2="473.70" y2="901.00" stroke="#7FCBD0" stroke-width="1.5" stroke-linecap="butt"/>
<line x1="467.70" y1="898.00" x2="479.70" y2="898.00" stroke="#7FCBD0" stroke-width="1.5" stroke-linecap="butt"/>
<line x1="467.70" y1="901.00" x2="479.70" y2="901.00" stroke="#7FCBD0" stroke-width="1.5" stroke-linecap="butt"/>
<circle cx="471.00" cy="897.20" r="5.3" fill="#167A80"/>
<circle cx="481.10" cy="898.70" r="5.3" fill="#167A80"/>
<circle cx="466.00" cy="901.50" r="5.3" fill="#167A80"/>
<circle cx="475.30" cy="901.50" r="5.3" fill="#167A80"/>
<line x1="461.20" y1="899.50" x2="486.20" y2="899.50" stroke="#167A80" stroke-width="2.4" stroke-linecap="butt"/>
<line x1="123.20" y1="619.40" x2="181.50" y2="619.40" stroke="#000" stroke-width="2.6" stroke-linecap="butt"/>
<text x="151.80" y="610.75" font-size="17" font-weight="bold" font-family="IPAGothic, 'Liberation Sans', sans-serif" letter-spacing="2.1" text-anchor="middle">**</text>
<line x1="123.20" y1="648.50" x2="157.20" y2="648.50" stroke="#000" stroke-width="2.6" stroke-linecap="butt"/>
<text x="138.95" y="640.00" font-size="17" font-weight="bold" font-family="IPAGothic, 'Liberation Sans', sans-serif" letter-spacing="2.1" text-anchor="middle">***</text>
<line x1="257.00" y1="714.30" x2="334.30" y2="714.30" stroke="#000" stroke-width="2.6" stroke-linecap="butt"/>
<text x="295.80" y="703.30" font-size="15.6" font-weight="normal" text-anchor="middle" fill="#000">ns</text>
<line x1="256.10" y1="742.70" x2="290.60" y2="742.70" stroke="#000" stroke-width="2.6" stroke-linecap="butt"/>
<text x="273.10" y="731.30" font-size="15.6" font-weight="normal" text-anchor="middle" fill="#000">ns</text>
<line x1="390.30" y1="714.30" x2="467.90" y2="714.30" stroke="#000" stroke-width="2.6" stroke-linecap="butt"/>
<text x="429.50" y="703.30" font-size="15.6" font-weight="normal" text-anchor="middle" fill="#000">ns</text>
<line x1="388.10" y1="742.70" x2="423.40" y2="742.70" stroke="#000" stroke-width="2.6" stroke-linecap="butt"/>
<text x="406.00" y="731.30" font-size="15.6" font-weight="normal" text-anchor="middle" fill="#000">ns</text>
<text x="299.80" y="603.80" font-size="24" font-weight="bold" text-anchor="middle" font-style="italic" fill="#000">ureC</text>
<text x="51.00" y="770.40" font-size="21.6" font-weight="bold" text-anchor="middle" transform="rotate(-90 51 770.4)" fill="#000">mRNA fold change</text>
<text x="8.50" y="573.50" font-size="28" font-weight="bold" text-anchor="start" fill="#000">C</text>
<line x1="580.45" y1="637.50" x2="580.45" y2="902.60" stroke="#000" stroke-width="2.6" stroke-linecap="butt"/>
<line x1="569.30" y1="901.30" x2="975.75" y2="901.30" stroke="#000" stroke-width="2.6" stroke-linecap="butt"/>
<line x1="569.30" y1="901.30" x2="580.45" y2="901.30" stroke="#000" stroke-width="2.6" stroke-linecap="butt"/>
<text font-size="21" font-weight="bold" text-anchor="end" transform="translate(566.86 908.61) scale(1.0 1)">0</text>
<line x1="569.30" y1="857.55" x2="580.45" y2="857.55" stroke="#000" stroke-width="2.6" stroke-linecap="butt"/>
<text font-size="21" font-weight="bold" text-anchor="end" transform="translate(566.86 864.86) scale(1.0 1)">25</text>
<line x1="569.30" y1="813.80" x2="580.45" y2="813.80" stroke="#000" stroke-width="2.6" stroke-linecap="butt"/>
<text font-size="21" font-weight="bold" text-anchor="end" transform="translate(566.86 821.11) scale(1.0 1)">50</text>
<line x1="569.30" y1="770.05" x2="580.45" y2="770.05" stroke="#000" stroke-width="2.6" stroke-linecap="butt"/>
<text font-size="21" font-weight="bold" text-anchor="end" transform="translate(566.86 777.36) scale(1.0 1)">75</text>
<line x1="569.30" y1="726.30" x2="580.45" y2="726.30" stroke="#000" stroke-width="2.6" stroke-linecap="butt"/>
<text font-size="21" font-weight="bold" text-anchor="end" transform="translate(566.86 733.61) scale(1.0 1)">100</text>
<line x1="569.30" y1="682.55" x2="580.45" y2="682.55" stroke="#000" stroke-width="2.6" stroke-linecap="butt"/>
<text font-size="21" font-weight="bold" text-anchor="end" transform="translate(566.86 689.86) scale(1.0 1)">125</text>
<line x1="569.30" y1="638.80" x2="580.45" y2="638.80" stroke="#000" stroke-width="2.6" stroke-linecap="butt"/>
<text font-size="21" font-weight="bold" text-anchor="end" transform="translate(566.86 646.11) scale(1.0 1)">150</text>
<line x1="574.25" y1="879.42" x2="580.45" y2="879.42" stroke="#000" stroke-width="2.6" stroke-linecap="butt"/>
<line x1="574.25" y1="835.67" x2="580.45" y2="835.67" stroke="#000" stroke-width="2.6" stroke-linecap="butt"/>
<line x1="574.25" y1="791.92" x2="580.45" y2="791.92" stroke="#000" stroke-width="2.6" stroke-linecap="butt"/>
<line x1="574.25" y1="748.17" x2="580.45" y2="748.17" stroke="#000" stroke-width="2.6" stroke-linecap="butt"/>
<line x1="574.25" y1="704.42" x2="580.45" y2="704.42" stroke="#000" stroke-width="2.6" stroke-linecap="butt"/>
<line x1="574.25" y1="660.67" x2="580.45" y2="660.67" stroke="#000" stroke-width="2.6" stroke-linecap="butt"/>
<line x1="642.00" y1="901.30" x2="642.00" y2="912.80" stroke="#000" stroke-width="2.6" stroke-linecap="butt"/>
<text font-size="22" font-weight="bold" text-anchor="end" transform="translate(647.60 933.20) rotate(-45) scale(0.9 1)">UTI-ST1</text>
<line x1="777.00" y1="901.30" x2="777.00" y2="912.80" stroke="#000" stroke-width="2.6" stroke-linecap="butt"/>
<text font-size="22" font-weight="bold" text-anchor="end" transform="translate(782.60 933.20) rotate(-45) scale(0.9 1)">UTI-ST5</text>
<line x1="912.40" y1="901.30" x2="912.40" y2="912.80" stroke="#000" stroke-width="2.6" stroke-linecap="butt"/>
<text font-size="22" font-weight="bold" text-anchor="end" transform="translate(918.00 933.20) rotate(-45) scale(0.9 1)">nUTI-ST1</text>
<line x1="605.00" y1="840.40" x2="605.00" y2="855.90" stroke="#A99BD8" stroke-width="1.5" stroke-linecap="butt"/>
<line x1="599.00" y1="840.40" x2="611.00" y2="840.40" stroke="#A99BD8" stroke-width="1.5" stroke-linecap="butt"/>
<line x1="599.00" y1="855.90" x2="611.00" y2="855.90" stroke="#A99BD8" stroke-width="1.5" stroke-linecap="butt"/>
<circle cx="605.00" cy="826.10" r="5.3" fill="#2D1659"/>
<circle cx="597.90" cy="849.20" r="5.3" fill="#2D1659"/>
<circle cx="612.30" cy="854.20" r="5.3" fill="#2D1659"/>
<circle cx="597.90" cy="862.20" r="5.3" fill="#2D1659"/>
<line x1="592.50" y1="848.00" x2="617.50" y2="848.00" stroke="#2D1659" stroke-width="2.4" stroke-linecap="butt"/>
<line x1="642.00" y1="715.75" x2="642.00" y2="752.00" stroke="#2ABDEB" stroke-width="1.5" stroke-linecap="butt"/>
<line x1="636.00" y1="715.75" x2="648.00" y2="715.75" stroke="#2ABDEB" stroke-width="1.5" stroke-linecap="butt"/>
<line x1="636.00" y1="752.00" x2="648.00" y2="752.00" stroke="#2ABDEB" stroke-width="1.5" stroke-linecap="butt"/>
<circle cx="642.00" cy="682.50" r="5.3" fill="#1450EB"/>
<circle cx="642.00" cy="733.75" r="5.3" fill="#1450EB"/>
<circle cx="648.75" cy="754.25" r="5.3" fill="#1450EB"/>
<circle cx="634.50" cy="763.75" r="5.3" fill="#1450EB"/>
<line x1="629.50" y1="733.25" x2="654.50" y2="733.25" stroke="#1450EB" stroke-width="2.4" stroke-linecap="butt"/>
<line x1="679.00" y1="877.00" x2="679.00" y2="881.50" stroke="#7FCBD0" stroke-width="1.5" stroke-linecap="butt"/>
<line x1="673.00" y1="877.00" x2="685.00" y2="877.00" stroke="#7FCBD0" stroke-width="1.5" stroke-linecap="butt"/>
<line x1="673.00" y1="881.50" x2="685.00" y2="881.50" stroke="#7FCBD0" stroke-width="1.5" stroke-linecap="butt"/>
<circle cx="671.60" cy="883.90" r="5.3" fill="#167A80"/>
<circle cx="676.30" cy="877.10" r="5.3" fill="#167A80"/>
<circle cx="681.00" cy="877.50" r="5.3" fill="#167A80"/>
<circle cx="686.50" cy="878.00" r="5.3" fill="#167A80"/>
<line x1="666.50" y1="879.20" x2="691.50" y2="879.20" stroke="#167A80" stroke-width="2.4" stroke-linecap="butt"/>
<line x1="740.00" y1="889.20" x2="740.00" y2="897.00" stroke="#A99BD8" stroke-width="1.5" stroke-linecap="butt"/>
<line x1="734.00" y1="889.20" x2="746.00" y2="889.20" stroke="#A99BD8" stroke-width="1.5" stroke-linecap="butt"/>
<line x1="734.00" y1="897.00" x2="746.00" y2="897.00" stroke="#A99BD8" stroke-width="1.5" stroke-linecap="butt"/>
<circle cx="740.00" cy="881.50" r="5.3" fill="#2D1659"/>
<circle cx="732.50" cy="900.90" r="5.3" fill="#2D1659"/>
<circle cx="741.00" cy="895.80" r="5.3" fill="#2D1659"/>
<circle cx="748.30" cy="895.80" r="5.3" fill="#2D1659"/>
<line x1="727.50" y1="893.30" x2="752.50" y2="893.30" stroke="#2D1659" stroke-width="2.4" stroke-linecap="butt"/>
<line x1="777.00" y1="885.60" x2="777.00" y2="898.00" stroke="#2ABDEB" stroke-width="1.5" stroke-linecap="butt"/>
<line x1="771.00" y1="885.60" x2="783.00" y2="885.60" stroke="#2ABDEB" stroke-width="1.5" stroke-linecap="butt"/>
<line x1="771.00" y1="898.00" x2="783.00" y2="898.00" stroke="#2ABDEB" stroke-width="1.5" stroke-linecap="butt"/>
<circle cx="777.00" cy="873.30" r="5.3" fill="#1450EB"/>
<circle cx="770.20" cy="900.90" r="5.3" fill="#1450EB"/>
<circle cx="784.50" cy="898.70" r="5.3" fill="#1450EB"/>
<circle cx="777.00" cy="900.00" r="5.3" fill="#1450EB"/>
<line x1="764.50" y1="891.90" x2="789.50" y2="891.90" stroke="#1450EB" stroke-width="2.4" stroke-linecap="butt"/>
<line x1="814.00" y1="887.60" x2="814.00" y2="898.00" stroke="#7FCBD0" stroke-width="1.5" stroke-linecap="butt"/>
<line x1="808.00" y1="887.60" x2="820.00" y2="887.60" stroke="#7FCBD0" stroke-width="1.5" stroke-linecap="butt"/>
<line x1="808.00" y1="898.00" x2="820.00" y2="898.00" stroke="#7FCBD0" stroke-width="1.5" stroke-linecap="butt"/>
<circle cx="814.00" cy="876.80" r="5.3" fill="#167A80"/>
<circle cx="806.80" cy="900.50" r="5.3" fill="#167A80"/>
<circle cx="821.00" cy="900.50" r="5.3" fill="#167A80"/>
<circle cx="814.00" cy="897.00" r="5.3" fill="#167A80"/>
<line x1="801.50" y1="893.00" x2="826.50" y2="893.00" stroke="#167A80" stroke-width="2.4" stroke-linecap="butt"/>
<line x1="875.40" y1="893.00" x2="875.40" y2="898.00" stroke="#A99BD8" stroke-width="1.5" stroke-linecap="butt"/>
<line x1="869.40" y1="893.00" x2="881.40" y2="893.00" stroke="#A99BD8" stroke-width="1.5" stroke-linecap="butt"/>
<line x1="869.40" y1="898.00" x2="881.40" y2="898.00" stroke="#A99BD8" stroke-width="1.5" stroke-linecap="butt"/>
<circle cx="873.30" cy="890.10" r="5.3" fill="#2D1659"/>
<circle cx="884.10" cy="895.80" r="5.3" fill="#2D1659"/>
<circle cx="868.30" cy="900.80" r="5.3" fill="#2D1659"/>
<circle cx="876.20" cy="898.00" r="5.3" fill="#2D1659"/>
<line x1="862.90" y1="895.80" x2="887.90" y2="895.80" stroke="#2D1659" stroke-width="2.4" stroke-linecap="butt"/>
<line x1="912.40" y1="893.00" x2="912.40" y2="898.00" stroke="#2ABDEB" stroke-width="1.5" stroke-linecap="butt"/>
<line x1="906.40" y1="893.00" x2="918.40" y2="893.00" stroke="#2ABDEB" stroke-width="1.5" stroke-linecap="butt"/>
<line x1="906.40" y1="898.00" x2="918.40" y2="898.00" stroke="#2ABDEB" stroke-width="1.5" stroke-linecap="butt"/>
<circle cx="910.20" cy="890.80" r="5.3" fill="#1450EB"/>
<circle cx="920.20" cy="890.80" r="5.3" fill="#1450EB"/>
<circle cx="905.20" cy="900.10" r="5.3" fill="#1450EB"/>
<circle cx="915.20" cy="898.00" r="5.3" fill="#1450EB"/>
<line x1="899.90" y1="895.80" x2="924.90" y2="895.80" stroke="#1450EB" stroke-width="2.4" stroke-linecap="butt"/>
<line x1="949.40" y1="896.00" x2="949.40" y2="899.00" stroke="#7FCBD0" stroke-width="1.5" stroke-linecap="butt"/>
<line x1="943.40" y1="896.00" x2="955.40" y2="896.00" stroke="#7FCBD0" stroke-width="1.5" stroke-linecap="butt"/>
<line x1="943.40" y1="899.00" x2="955.40" y2="899.00" stroke="#7FCBD0" stroke-width="1.5" stroke-linecap="butt"/>
<circle cx="947.10" cy="895.10" r="5.3" fill="#167A80"/>
<circle cx="957.20" cy="895.80" r="5.3" fill="#167A80"/>
<circle cx="942.10" cy="898.70" r="5.3" fill="#167A80"/>
<circle cx="952.90" cy="899.40" r="5.3" fill="#167A80"/>
<line x1="936.90" y1="897.30" x2="961.90" y2="897.30" stroke="#167A80" stroke-width="2.4" stroke-linecap="butt"/>
<line x1="602.50" y1="621.75" x2="667.50" y2="621.75" stroke="#000" stroke-width="2.6" stroke-linecap="butt"/>
<text x="634.40" y="613.90" font-size="17" font-weight="bold" font-family="IPAGothic, 'Liberation Sans', sans-serif" letter-spacing="2.1" text-anchor="middle">**</text>
<line x1="606.25" y1="656.25" x2="638.00" y2="656.25" stroke="#000" stroke-width="2.6" stroke-linecap="butt"/>
<text x="621.25" y="647.80" font-size="17" font-weight="bold" font-family="IPAGothic, 'Liberation Sans', sans-serif" letter-spacing="2.1" text-anchor="middle">**</text>
<line x1="738.00" y1="709.25" x2="803.75" y2="709.25" stroke="#000" stroke-width="2.6" stroke-linecap="butt"/>
<text x="770.00" y="698.30" font-size="15.6" font-weight="normal" text-anchor="middle" fill="#000">ns</text>
<line x1="738.00" y1="741.75" x2="770.00" y2="741.75" stroke="#000" stroke-width="2.6" stroke-linecap="butt"/>
<text x="753.75" y="730.50" font-size="15.6" font-weight="normal" text-anchor="middle" fill="#000">ns</text>
<line x1="882.00" y1="709.25" x2="947.00" y2="709.25" stroke="#000" stroke-width="2.6" stroke-linecap="butt"/>
<text x="914.50" y="698.30" font-size="15.6" font-weight="normal" text-anchor="middle" fill="#000">ns</text>
<line x1="883.00" y1="742.00" x2="915.50" y2="742.00" stroke="#000" stroke-width="2.6" stroke-linecap="butt"/>
<text x="898.75" y="730.50" font-size="15.6" font-weight="normal" text-anchor="middle" fill="#000">ns</text>
<text x="777.50" y="604.50" font-size="24" font-weight="bold" text-anchor="middle" font-style="italic" fill="#000">ureA</text>
<text x="520.50" y="769.50" font-size="21.3" font-weight="bold" text-anchor="middle" transform="rotate(-90 520.5 769.5)" fill="#000">mRNA fold change</text>
<text x="477.50" y="573.50" font-size="28" font-weight="bold" text-anchor="start" fill="#000">D</text>
<line x1="1042.40" y1="652.00" x2="1042.40" y2="904.60" stroke="#000" stroke-width="2.6" stroke-linecap="butt"/>
<line x1="1031.60" y1="903.30" x2="1419.00" y2="903.30" stroke="#000" stroke-width="2.6" stroke-linecap="butt"/>
<line x1="1031.60" y1="903.30" x2="1042.40" y2="903.30" stroke="#000" stroke-width="2.6" stroke-linecap="butt"/>
<text font-size="19.8" font-weight="bold" text-anchor="end" transform="translate(1028.42 910.19) scale(0.955 1)">0</text>
<line x1="1031.60" y1="853.30" x2="1042.40" y2="853.30" stroke="#000" stroke-width="2.6" stroke-linecap="butt"/>
<text font-size="19.8" font-weight="bold" text-anchor="end" transform="translate(1028.42 860.19) scale(0.955 1)">10</text>
<line x1="1031.60" y1="803.30" x2="1042.40" y2="803.30" stroke="#000" stroke-width="2.6" stroke-linecap="butt"/>
<text font-size="19.8" font-weight="bold" text-anchor="end" transform="translate(1028.42 810.19) scale(0.955 1)">20</text>
<line x1="1031.60" y1="753.30" x2="1042.40" y2="753.30" stroke="#000" stroke-width="2.6" stroke-linecap="butt"/>
<text font-size="19.8" font-weight="bold" text-anchor="end" transform="translate(1028.42 760.19) scale(0.955 1)">30</text>
<line x1="1031.60" y1="703.30" x2="1042.40" y2="703.30" stroke="#000" stroke-width="2.6" stroke-linecap="butt"/>
<text font-size="19.8" font-weight="bold" text-anchor="end" transform="translate(1028.42 710.19) scale(0.955 1)">40</text>
<line x1="1031.60" y1="653.30" x2="1042.40" y2="653.30" stroke="#000" stroke-width="2.6" stroke-linecap="butt"/>
<text font-size="19.8" font-weight="bold" text-anchor="end" transform="translate(1028.42 660.19) scale(0.955 1)">50</text>
<line x1="1036.20" y1="878.30" x2="1042.40" y2="878.30" stroke="#000" stroke-width="2.6" stroke-linecap="butt"/>
<line x1="1036.20" y1="828.30" x2="1042.40" y2="828.30" stroke="#000" stroke-width="2.6" stroke-linecap="butt"/>
<line x1="1036.20" y1="778.30" x2="1042.40" y2="778.30" stroke="#000" stroke-width="2.6" stroke-linecap="butt"/>
<line x1="1036.20" y1="728.30" x2="1042.40" y2="728.30" stroke="#000" stroke-width="2.6" stroke-linecap="butt"/>
<line x1="1036.20" y1="678.30" x2="1042.40" y2="678.30" stroke="#000" stroke-width="2.6" stroke-linecap="butt"/>
<line x1="1100.60" y1="903.30" x2="1100.60" y2="914.80" stroke="#000" stroke-width="2.6" stroke-linecap="butt"/>
<text font-size="20" font-weight="bold" text-anchor="end" transform="translate(1105.10 933.90) rotate(-45) scale(0.9 1)">UTI-ST1</text>
<line x1="1229.80" y1="903.30" x2="1229.80" y2="914.80" stroke="#000" stroke-width="2.6" stroke-linecap="butt"/>
<text font-size="20" font-weight="bold" text-anchor="end" transform="translate(1234.30 933.90) rotate(-45) scale(0.9 1)">UTI-ST5</text>
<line x1="1358.60" y1="903.30" x2="1358.60" y2="914.80" stroke="#000" stroke-width="2.6" stroke-linecap="butt"/>
<text font-size="20" font-weight="bold" text-anchor="end" transform="translate(1363.10 933.90) rotate(-45) scale(0.9 1)">nUTI-ST1</text>
<line x1="1065.40" y1="826.00" x2="1065.40" y2="837.40" stroke="#A99BD8" stroke-width="1.5" stroke-linecap="butt"/>
<line x1="1059.40" y1="826.00" x2="1071.40" y2="826.00" stroke="#A99BD8" stroke-width="1.5" stroke-linecap="butt"/>
<line x1="1059.40" y1="837.40" x2="1071.40" y2="837.40" stroke="#A99BD8" stroke-width="1.5" stroke-linecap="butt"/>
<circle cx="1058.60" cy="822.70" r="5.3" fill="#2D1659"/>
<circle cx="1072.30" cy="824.80" r="5.3" fill="#2D1659"/>
<circle cx="1066.00" cy="826.90" r="5.3" fill="#2D1659"/>
<circle cx="1065.40" cy="848.90" r="5.3" fill="#2D1659"/>
<line x1="1052.90" y1="831.70" x2="1077.90" y2="831.70" stroke="#2D1659" stroke-width="2.4" stroke-linecap="butt"/>
<line x1="1100.60" y1="705.10" x2="1100.60" y2="764.30" stroke="#2ABDEB" stroke-width="1.5" stroke-linecap="butt"/>
<line x1="1094.60" y1="705.10" x2="1106.60" y2="705.10" stroke="#2ABDEB" stroke-width="1.5" stroke-linecap="butt"/>
<line x1="1094.60" y1="764.30" x2="1106.60" y2="764.30" stroke="#2ABDEB" stroke-width="1.5" stroke-linecap="butt"/>
<circle cx="1100.60" cy="674.70" r="5.3" fill="#1450EB"/>
<circle cx="1100.60" cy="699.90" r="5.3" fill="#1450EB"/>
<circle cx="1100.60" cy="756.60" r="5.3" fill="#1450EB"/>
<circle cx="1100.60" cy="808.00" r="5.3" fill="#1450EB"/>
<line x1="1088.10" y1="734.50" x2="1113.10" y2="734.50" stroke="#1450EB" stroke-width="2.4" stroke-linecap="butt"/>
<line x1="1135.80" y1="849.10" x2="1135.80" y2="855.30" stroke="#7FCBD0" stroke-width="1.5" stroke-linecap="butt"/>
<line x1="1129.80" y1="849.10" x2="1141.80" y2="849.10" stroke="#7FCBD0" stroke-width="1.5" stroke-linecap="butt"/>
<line x1="1129.80" y1="855.30" x2="1141.80" y2="855.30" stroke="#7FCBD0" stroke-width="1.5" stroke-linecap="butt"/>
<circle cx="1136.70" cy="843.00" r="5.3" fill="#167A80"/>
<circle cx="1129.40" cy="857.60" r="5.3" fill="#167A80"/>
<circle cx="1136.80" cy="854.00" r="5.3" fill="#167A80"/>
<circle cx="1143.60" cy="855.60" r="5.3" fill="#167A80"/>
<line x1="1123.30" y1="852.20" x2="1148.30" y2="852.20" stroke="#167A80" stroke-width="2.4" stroke-linecap="butt"/>
<line x1="1194.60" y1="890.50" x2="1194.60" y2="896.30" stroke="#A99BD8" stroke-width="1.5" stroke-linecap="butt"/>
<line x1="1188.60" y1="890.50" x2="1200.60" y2="890.50" stroke="#A99BD8" stroke-width="1.5" stroke-linecap="butt"/>
<line x1="1188.60" y1="896.30" x2="1200.60" y2="896.30" stroke="#A99BD8" stroke-width="1.5" stroke-linecap="butt"/>
<circle cx="1188.00" cy="887.30" r="5.3" fill="#2D1659"/>
<circle cx="1188.00" cy="899.50" r="5.3" fill="#2D1659"/>
<circle cx="1192.70" cy="893.80" r="5.3" fill="#2D1659"/>
<circle cx="1201.60" cy="894.10" r="5.3" fill="#2D1659"/>
<line x1="1182.10" y1="893.40" x2="1207.10" y2="893.40" stroke="#2D1659" stroke-width="2.4" stroke-linecap="butt"/>
<line x1="1229.80" y1="885.70" x2="1229.80" y2="897.00" stroke="#2ABDEB" stroke-width="1.5" stroke-linecap="butt"/>
<line x1="1223.80" y1="885.70" x2="1235.80" y2="885.70" stroke="#2ABDEB" stroke-width="1.5" stroke-linecap="butt"/>
<line x1="1223.80" y1="897.00" x2="1235.80" y2="897.00" stroke="#2ABDEB" stroke-width="1.5" stroke-linecap="butt"/>
<circle cx="1229.80" cy="876.20" r="5.3" fill="#1450EB"/>
<circle cx="1222.70" cy="898.40" r="5.3" fill="#1450EB"/>
<circle cx="1236.60" cy="896.60" r="5.3" fill="#1450EB"/>
<circle cx="1229.80" cy="893.00" r="5.3" fill="#1450EB"/>
<line x1="1217.30" y1="891.30" x2="1242.30" y2="891.30" stroke="#1450EB" stroke-width="2.4" stroke-linecap="butt"/>
<line x1="1265.00" y1="872.60" x2="1265.00" y2="895.20" stroke="#7FCBD0" stroke-width="1.5" stroke-linecap="butt"/>
<line x1="1259.00" y1="872.60" x2="1271.00" y2="872.60" stroke="#7FCBD0" stroke-width="1.5" stroke-linecap="butt"/>
<line x1="1259.00" y1="895.20" x2="1271.00" y2="895.20" stroke="#7FCBD0" stroke-width="1.5" stroke-linecap="butt"/>
<circle cx="1265.00" cy="850.80" r="5.3" fill="#167A80"/>
<circle cx="1258.00" cy="888.70" r="5.3" fill="#167A80"/>
<circle cx="1258.00" cy="899.10" r="5.3" fill="#167A80"/>
<circle cx="1272.00" cy="897.00" r="5.3" fill="#167A80"/>
<line x1="1252.50" y1="883.90" x2="1277.50" y2="883.90" stroke="#167A80" stroke-width="2.4" stroke-linecap="butt"/>
<line x1="1323.40" y1="894.00" x2="1323.40" y2="898.00" stroke="#A99BD8" stroke-width="1.5" stroke-linecap="butt"/>
<line x1="1317.40" y1="894.00" x2="1329.40" y2="894.00" stroke="#A99BD8" stroke-width="1.5" stroke-linecap="butt"/>
<line x1="1317.40" y1="898.00" x2="1329.40" y2="898.00" stroke="#A99BD8" stroke-width="1.5" stroke-linecap="butt"/>
<circle cx="1321.00" cy="892.70" r="5.3" fill="#2D1659"/>
<circle cx="1330.80" cy="896.20" r="5.3" fill="#2D1659"/>
<circle cx="1316.00" cy="899.70" r="5.3" fill="#2D1659"/>
<circle cx="1323.80" cy="900.10" r="5.3" fill="#2D1659"/>
<line x1="1310.90" y1="896.00" x2="1335.90" y2="896.00" stroke="#2D1659" stroke-width="2.4" stroke-linecap="butt"/>
<line x1="1358.60" y1="890.00" x2="1358.60" y2="895.40" stroke="#2ABDEB" stroke-width="1.5" stroke-linecap="butt"/>
<line x1="1352.60" y1="890.00" x2="1364.60" y2="890.00" stroke="#2ABDEB" stroke-width="1.5" stroke-linecap="butt"/>
<line x1="1352.60" y1="895.40" x2="1364.60" y2="895.40" stroke="#2ABDEB" stroke-width="1.5" stroke-linecap="butt"/>
<circle cx="1351.90" cy="886.40" r="5.3" fill="#1450EB"/>
<circle cx="1359.70" cy="889.20" r="5.3" fill="#1450EB"/>
<circle cx="1366.00" cy="895.40" r="5.3" fill="#1450EB"/>
<circle cx="1351.90" cy="900.90" r="5.3" fill="#1450EB"/>
<line x1="1346.10" y1="893.10" x2="1371.10" y2="893.10" stroke="#1450EB" stroke-width="2.4" stroke-linecap="butt"/>
<line x1="1393.80" y1="893.50" x2="1393.80" y2="896.50" stroke="#7FCBD0" stroke-width="1.5" stroke-linecap="butt"/>
<line x1="1387.80" y1="893.50" x2="1399.80" y2="893.50" stroke="#7FCBD0" stroke-width="1.5" stroke-linecap="butt"/>
<line x1="1387.80" y1="896.50" x2="1399.80" y2="896.50" stroke="#7FCBD0" stroke-width="1.5" stroke-linecap="butt"/>
<circle cx="1392.20" cy="891.10" r="5.3" fill="#167A80"/>
<circle cx="1401.60" cy="892.70" r="5.3" fill="#167A80"/>
<circle cx="1387.50" cy="898.90" r="5.3" fill="#167A80"/>
<circle cx="1396.10" cy="897.00" r="5.3" fill="#167A80"/>
<line x1="1381.30" y1="895.00" x2="1406.30" y2="895.00" stroke="#167A80" stroke-width="2.4" stroke-linecap="butt"/>
<line x1="1068.00" y1="635.50" x2="1126.25" y2="635.50" stroke="#000" stroke-width="2.6" stroke-linecap="butt"/>
<text x="1097.15" y="627.70" font-size="17" font-weight="bold" font-family="IPAGothic, 'Liberation Sans', sans-serif" letter-spacing="2.1" text-anchor="middle">*</text>
<line x1="1070.00" y1="658.00" x2="1100.00" y2="658.00" stroke="#000" stroke-width="2.6" stroke-linecap="butt"/>
<text x="1085.25" y="649.30" font-size="17" font-weight="bold" font-family="IPAGothic, 'Liberation Sans', sans-serif" letter-spacing="2.1" text-anchor="middle">*</text>
<line x1="1181.00" y1="726.50" x2="1252.00" y2="726.50" stroke="#000" stroke-width="2.6" stroke-linecap="butt"/>
<text x="1216.25" y="715.75" font-size="15.6" font-weight="normal" text-anchor="middle" fill="#000">ns</text>
<line x1="1181.00" y1="752.50" x2="1220.00" y2="752.50" stroke="#000" stroke-width="2.6" stroke-linecap="butt"/>
<text x="1200.10" y="741.50" font-size="15.6" font-weight="normal" text-anchor="middle" fill="#000">ns</text>
<line x1="1323.00" y1="726.50" x2="1394.75" y2="726.50" stroke="#000" stroke-width="2.6" stroke-linecap="butt"/>
<text x="1358.50" y="715.75" font-size="15.6" font-weight="normal" text-anchor="middle" fill="#000">ns</text>
<line x1="1323.00" y1="752.50" x2="1362.50" y2="752.50" stroke="#000" stroke-width="2.6" stroke-linecap="butt"/>
<text x="1342.60" y="741.50" font-size="15.6" font-weight="normal" text-anchor="middle" fill="#000">ns</text>
<text x="1231.25" y="620.50" font-size="24" font-weight="bold" text-anchor="middle" font-style="italic" fill="#000">ureD</text>
<text x="994.80" y="778.60" font-size="20.5" font-weight="bold" text-anchor="middle" transform="rotate(-90 994.8 778.6)" fill="#000">mRNA fold change</text>
<text x="948.50" y="573.50" font-size="28" font-weight="bold" text-anchor="start" fill="#000">E</text>
<circle cx="1451.00" cy="623.25" r="5.1" fill="#2D1659"/>
<text font-size="22" transform="translate(1479.3 631.15) scale(0.9 1)">2H</text>
<circle cx="1451.00" cy="657.00" r="5.1" fill="#1450EB"/>
<text font-size="22" transform="translate(1479.3 664.90) scale(0.9 1)">4H</text>
<circle cx="1451.00" cy="690.50" r="5.1" fill="#167A80"/>
<text font-size="22" transform="translate(1479.3 698.40) scale(0.9 1)">6H</text>
</svg></body></html>
